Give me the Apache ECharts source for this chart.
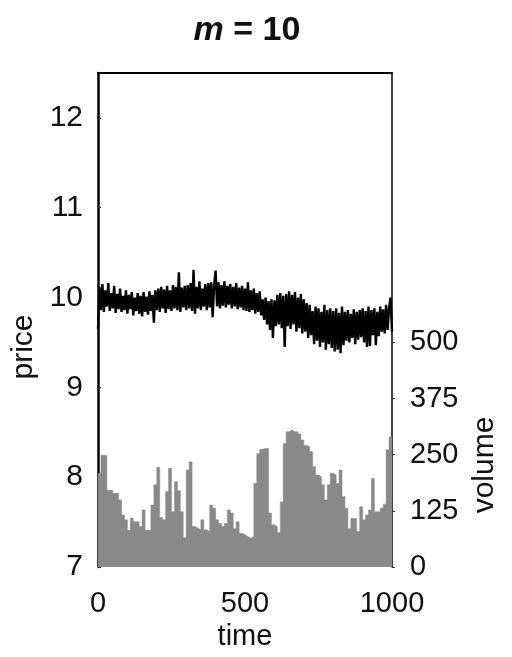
<!DOCTYPE html>
<html>
<head>
<meta charset="utf-8">
<script src="https://cdn.jsdelivr.net/npm/echarts@6/dist/echarts.min.js"></script>
<style>
html,body{margin:0;padding:0;background:#fff;}
#c{width:512px;height:657px;}
</style>
</head>
<body>
<div id="c"></div>
<script>
// ---- data ----
const chartTitleVar = 'm';
const chartTitleRest = ' = 10';
const priceStepTime = 5; // time units between price samples
const priceValues = [
  // t = 0 .. 95
  9.65,10.12,9.86,10.15,9.84,10.08,9.90,10.16,9.85,10.05,9.88,10.13,9.83,10.04,9.87,10.10,9.84,10.02,9.86,10.08,
  // t = 100 .. 195
  9.82,10.03,9.87,10.06,9.80,10.00,9.85,10.05,9.82,10.02,9.79,10.06,9.84,10.01,9.81,10.07,9.85,10.03,9.72,10.08,
  // t = 200 .. 295
  9.86,10.10,9.84,10.12,9.88,10.09,9.83,10.13,9.87,10.08,9.85,10.14,9.88,10.12,9.86,10.28,9.84,10.11,9.89,10.13,
  // t = 300 .. 395
  9.86,10.14,9.88,10.16,9.85,10.31,9.82,10.12,9.88,10.18,9.86,10.10,9.90,10.15,9.86,10.16,9.89,10.17,9.78,10.14,
  // t = 400 .. 495
  10.30,9.90,10.17,9.88,10.14,9.91,10.18,9.89,10.13,9.92,10.15,9.88,10.12,9.90,10.16,9.87,10.11,9.89,10.13,9.86,
  // t = 500 .. 595
  10.10,9.85,10.17,9.84,10.08,9.86,10.10,9.82,10.05,9.84,10.07,9.80,9.98,9.75,10.00,9.70,9.96,9.64,9.98,9.55,
  // t = 600 .. 695
  9.97,9.68,10.03,9.70,10.05,9.66,10.02,9.45,10.04,9.68,10.07,9.65,10.03,9.70,10.06,9.62,10.00,9.66,10.04,9.60,
  // t = 700 .. 795
  9.98,9.62,9.94,9.55,9.92,9.58,9.85,9.48,9.90,9.52,9.88,9.45,9.84,9.50,9.92,9.42,9.86,9.48,9.88,9.44,
  // t = 800 .. 895
  9.85,9.40,9.88,9.42,9.83,9.38,9.90,9.47,9.84,9.52,9.86,9.50,9.82,9.55,9.87,9.48,9.84,9.53,9.86,9.56,
  // t = 900 .. 1000
  9.88,9.50,9.85,9.45,9.90,9.46,9.86,9.58,9.88,9.47,9.84,9.57,9.90,9.62,9.87,9.60,9.92,9.64,9.88,10.00,9.62
];
// volume per bin of 10 time units (100 bins)
const volumeValues = [
  209,249,249,171,171,164,164,149,116,105,
  82,109,101,101,90,127,82,82,138,183,
  222,110,105,168,220,123,190,170,123,65,
  216,234,90,87,83,105,83,79,138,131,
  105,97,90,97,127,120,86,101,75,72,
  68,64,68,186,253,262,264,264,120,94,
  90,77,145,275,301,305,301,301,296,283,
  271,268,257,223,205,201,183,149,183,209,
  205,186,216,157,131,86,108,108,79,134,
  105,116,127,197,123,123,131,140,261,290
];
const timeTicks = [0, 500, 1000];
const priceTicks = [7, 8, 9, 10, 11, 12];
const volumeTicks = [0, 125, 250, 375, 500];
const volumeBinSize = 10;

// ---- build series data ----
const priceData = priceValues.map((v, i) => [i * priceStepTime, v]);
// histogram as a step area: each bin starts at i*binSize; closing point at the end
const volumeData = volumeValues.map((v, i) => [i * volumeBinSize, v]);
volumeData.push([volumeValues.length * volumeBinSize, volumeValues[volumeValues.length - 1]]);

const FONT = '"Liberation Sans", Arial, sans-serif';
const BAR_GRAY = '#898989';
const chart = echarts.init(document.getElementById('c'), null, {renderer: 'canvas'});
chart.setOption({
  animation: false,
  backgroundColor: '#ffffff',
  title: {
    text: '{i|' + chartTitleVar + '}{n|' + chartTitleRest + '}',
    left: 242, top: 9, textAlign: 'center',
    textStyle: {
      rich: {
        i: {fontFamily: FONT, fontSize: 34, fontWeight: 'bold', fontStyle: 'italic', color: '#111'},
        n: {fontFamily: FONT, fontSize: 34, fontWeight: 'bold', color: '#111'}
      }
    }
  },
  grid: {left: 98, right: 120, top: 73, bottom: 90, containLabel: false},
  xAxis: [
    {
      type: 'value', min: 0, max: 1000, interval: 500, position: 'bottom',
      name: 'time', nameLocation: 'middle', nameGap: 53,
      nameTextStyle: {fontFamily: FONT, fontSize: 29, color: '#111'},
      axisLine: {show: false, onZero: false},
      axisTick: {show: true, inside: true, length: 3, lineStyle: {color: '#333'}},
      axisLabel: {fontFamily: FONT, fontSize: 29, color: '#111', margin: 22,
        customValues: timeTicks, formatter: v => String(v)},
      splitLine: {show: false}
    },
    {
      type: 'value', min: 0, max: 1000, position: 'top',
      axisLine: {show: true, onZero: false, lineStyle: {color: '#000', width: 2}},
      axisTick: {show: false}, axisLabel: {show: false}, splitLine: {show: false}
    }
  ],
  yAxis: [
    {
      type: 'value', min: 7, max: 12.5, interval: 1, position: 'left',
      name: 'price', nameLocation: 'middle', nameGap: 50, nameRotate: 90,
      nameTextStyle: {fontFamily: FONT, fontSize: 30, color: '#111', padding: [0, 54, 0, 0]},
      axisLine: {show: true, onZero: false, lineStyle: {color: '#000', width: 2.5}},
      axisTick: {show: true, inside: true, length: 3, lineStyle: {color: '#333'},
        customValues: priceTicks},
      axisLabel: {fontFamily: FONT, fontSize: 30, color: '#111', margin: 15,
        customValues: priceTicks, padding: [6, 0, 0, 0]},
      splitLine: {show: false}
    },
    {
      type: 'value', min: 0, max: 1100, interval: 125, position: 'right',
      name: 'volume', nameLocation: 'middle', nameGap: 72, nameRotate: 90,
      nameTextStyle: {fontFamily: FONT, fontSize: 30, color: '#111', padding: [0, 290, 0, 0]},
      axisLine: {show: true, onZero: false, lineStyle: {color: '#000', width: 1.5}},
      axisTick: {show: true, inside: false, length: 3, lineStyle: {color: '#333'},
        customValues: volumeTicks},
      axisLabel: {fontFamily: FONT, fontSize: 29, color: '#111', margin: 18,
        customValues: volumeTicks, padding: [5, 0, 0, 0]},
      splitLine: {show: false}
    }
  ],
  series: [
    {
      type: 'line', name: 'volume', xAxisIndex: 1, yAxisIndex: 1,
      data: volumeData, step: 'end', showSymbol: false, symbol: 'none',
      lineStyle: {color: BAR_GRAY, width: 0.5},
      areaStyle: {color: BAR_GRAY, opacity: 1, origin: 'start'}, z: 2
    },
    {
      type: 'line', name: 'price', xAxisIndex: 0, yAxisIndex: 0,
      data: priceData, showSymbol: false, symbol: 'none',
      lineStyle: {color: '#000', width: 2.4}, z: 3
    }
  ]
});
</script>
</body>
</html>
